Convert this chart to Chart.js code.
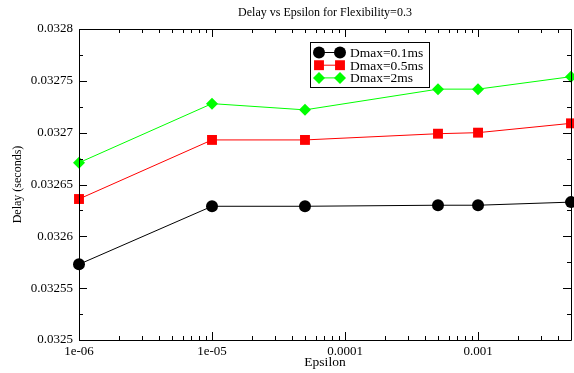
<!DOCTYPE html>
<html>
<head>
<meta charset="utf-8">
<script src="https://cdn.jsdelivr.net/npm/chart.js@4/dist/chart.umd.min.js"></script>
<style>
  body { margin: 0; background: #fff; }
  canvas { display: block; }
</style>
</head>
<body>
<canvas id="myChart" width="574" height="373"></canvas>
<script>
// data
let epsilon = [1e-6, 1e-5, 5e-5, 5e-4, 1e-3, 5e-3];
let dmax01 = [0.032573, 0.032629, 0.032629, 0.032630, 0.032630, 0.032633];
let dmax05 = [0.032636, 0.032693, 0.032693, 0.032699, 0.032700, 0.032709];
let dmax2  = [0.032671, 0.032728, 0.032722, 0.032742, 0.032742, 0.032754];

let xTickValues = [1e-6, 1e-5, 1e-4, 1e-3];
let xTickLabels = ['1e-06', '1e-05', '0.0001', '0.001'];

let seriesNames = ['Dmax=0.1ms', 'Dmax=0.5ms', 'Dmax=2ms'];

const serif = '"Liberation Serif", "Times New Roman", serif';
Chart.defaults.color = '#000';
Chart.defaults.font.family = serif;

function toPoints(ys) {
    return epsilon.map((x, i) => ({x: x, y: ys[i]}));
}

// markers: [style, colour, radius]
let markers = [
    ['circle', '#000000', 6],
    ['rect', '#ff0000', 7],
    ['rectRot', '#00ff00', 6],
];

function drawMarker(ctx, style, color, r, x, y) {
    ctx.fillStyle = color;
    ctx.beginPath();
    if (style === 'circle') {
        ctx.arc(x, y, r, 0, Math.PI * 2);
    } else if (style === 'rect') {
        let s = Math.SQRT1_2 * r;
        ctx.rect(x - s, y - s, 2 * s, 2 * s);
    } else {
        ctx.moveTo(x - r, y); ctx.lineTo(x, y - r);
        ctx.lineTo(x + r, y); ctx.lineTo(x, y + r);
        ctx.closePath();
    }
    ctx.fill();
}

// frame with inward ticks, like xmgrace
const framePlugin = {
    id: 'frame',
    afterDatasetsDraw(chart) {
        const ctx = chart.ctx;
        const a = chart.chartArea;
        const xs = chart.scales.x, ys = chart.scales.y;
        ctx.save();
        ctx.strokeStyle = '#000';
        ctx.lineWidth = 1;
        ctx.beginPath();
        ctx.rect(Math.round(a.left) + 0.5, Math.round(a.top) + 0.5,
                 Math.round(a.right - a.left), Math.round(a.bottom - a.top));
        ctx.stroke();

        ctx.beginPath();
        for (let e = -6; e <= -3; e++) {
            for (let k = 1; k <= 9; k++) {
                let v = k * Math.pow(10, e);
                if (v < xs.min * 0.999 || v > xs.max * 1.001) continue;
                let px = Math.round(xs.getPixelForValue(v)) + 0.5;
                let len = k === 1 ? 8 : 4;
                ctx.moveTo(px, a.bottom); ctx.lineTo(px, a.bottom - len);
                ctx.moveTo(px, a.top); ctx.lineTo(px, a.top + len);
            }
        }
        for (let i = 0; i <= 12; i++) {
            let v = ys.min + i * 0.000025;
            let py = Math.round(ys.getPixelForValue(v)) + 0.5;
            let len = i % 2 === 0 ? 8 : 4;
            ctx.moveTo(a.left, py); ctx.lineTo(a.left + len, py);
            ctx.moveTo(a.right, py); ctx.lineTo(a.right - len, py);
        }
        ctx.stroke();
        ctx.restore();
    },
    afterDraw(chart) {
        // legend box
        const ctx = chart.ctx;
        let bx = 310, by = 42, bw = 119, bh = 45;
        ctx.save();
        ctx.fillStyle = '#fff';
        ctx.fillRect(bx, by, bw, bh);
        ctx.strokeStyle = '#000';
        ctx.lineWidth = 1;
        ctx.strokeRect(bx + 0.5, by + 0.5, bw, bh);
        ctx.font = '13.5px ' + serif;
        ctx.textBaseline = 'middle';
        seriesNames.forEach((name, i) => {
            let y = by + 10.5 + i * 12.7;
            let m = markers[i];
            ctx.strokeStyle = m[1];
            ctx.beginPath();
            ctx.moveTo(bx + 9, y); ctx.lineTo(bx + 30, y);
            ctx.stroke();
            drawMarker(ctx, m[0], m[1], m[2], bx + 9, y);
            drawMarker(ctx, m[0], m[1], m[2], bx + 30, y);
            ctx.fillStyle = '#000';
            ctx.fillText(name, bx + 40, y + 1);
        });
        ctx.restore();
    }
};

let chart1 = new Chart(document.getElementById('myChart').getContext('2d'), {
    type: 'line',
    data: {
        datasets: [dmax01, dmax05, dmax2].map((ys, i) => ({
            label: seriesNames[i],
            data: toPoints(ys),
            borderColor: markers[i][1],
            backgroundColor: markers[i][1],
            borderWidth: 1,
            pointStyle: markers[i][0],
            pointRadius: markers[i][2],
            pointHoverRadius: markers[i][2],
            pointBorderWidth: 0,
            tension: 0,
            clip: false,
        }))
    },
    options: {
        responsive: false,
        animation: false,
        layout: { autoPadding: false, padding: { left: 0, top: 0, bottom: 0, right: 3 } },
        plugins: {
            legend: { display: false },
            tooltip: { enabled: false },
            title: {
                display: true,
                fullSize: false,
                text: 'Delay vs Epsilon for Flexibility=0.3',
                color: '#000',
                font: { size: 12, weight: 'normal', family: serif },
                padding: { top: 6, bottom: 8.6 },
            },
        },
        scales: {
            x: {
                type: 'logarithmic',
                min: 1e-6,
                max: 5e-3,
                afterBuildTicks: (scale) => {
                    scale.ticks = xTickValues.map(v => ({value: v}));
                },
                afterFit: (scale) => { scale.height = 33; },
                grid: { display: false, drawTicks: false },
                border: { display: false },
                ticks: {
                    autoSkip: false,
                    maxRotation: 0,
                    padding: 4,
                    font: { size: 13 },
                    callback: (v) => {
                        let i = xTickValues.findIndex(t => Math.abs(t - v) / t < 1e-6);
                        return i >= 0 ? xTickLabels[i] : '';
                    },
                },
                title: {
                    display: true,
                    text: 'Epsilon',
                    font: { size: 13.5 },
                    padding: { top: 0, bottom: 2 },
                },
            },
            y: {
                min: 0.0325,
                max: 0.0328,
                afterFit: (scale) => { scale.width = 79; },
                grid: { display: false, drawTicks: false },
                border: { display: false },
                ticks: {
                    stepSize: 0.00005,
                    padding: 6,
                    font: { size: 13 },
                    callback: (v) => String(parseFloat(v.toFixed(5))),
                },
                title: {
                    display: true,
                    text: 'Delay (seconds)',
                    font: { size: 12 },
                    padding: { top: 11, bottom: 0 },
                },
            },
        },
    },
    plugins: [framePlugin],
});
</script>
</body>
</html>
